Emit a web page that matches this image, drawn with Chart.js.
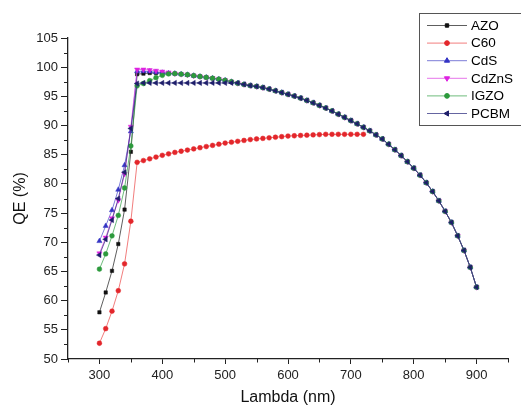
<!DOCTYPE html>
<html>
<head>
<meta charset="utf-8">
<script src="https://cdn.jsdelivr.net/npm/chart.js@4.4.1/dist/chart.umd.min.js"></script>
<style>
  html, body { margin: 0; padding: 0; background: #fff; }
  #wrap { width: 521px; height: 406px; position: relative; }
</style>
</head>
<body>
<div id="wrap"><canvas id="qeChart"></canvas></div>
<script>
// wavelength grid, 300..900 nm every 10 nm
const lambdaNm = [
  300, 310, 320, 330, 340, 350, 360, 370, 380, 390, 400, 410, 420, 430, 440, 450,
  460, 470, 480, 490, 500, 510, 520, 530, 540, 550, 560, 570, 580, 590, 600, 610,
  620, 630, 640, 650, 660, 670, 680, 690, 700, 710, 720, 730, 740, 750, 760, 770,
  780, 790, 800, 810, 820, 830, 840, 850, 860, 870, 880, 890, 900
];

// shared long-wavelength part (360..900 nm), where most curves overlap
const commonQE = [
  98.8, 98.9, 99.0, 99.0, 99.0, 98.95, 98.9, 98.8, 98.7, 98.55,
  98.4, 98.25, 98.1, 97.95, 97.75, 97.5, 97.25, 97.05, 96.85, 96.7,
  96.5, 96.25, 95.95, 95.65, 95.35, 95.05, 94.7, 94.3, 93.9, 93.45,
  93.0, 92.5, 91.95, 91.4, 90.85, 90.3, 89.7, 89.1, 88.4, 87.7,
  86.8, 85.85, 84.85, 83.8, 82.7, 81.5, 80.2, 78.7, 77.1, 75.3,
  73.4, 71.1, 68.6, 65.7, 62.3
];

// short-wavelength part of each buffer layer, starting at 300 nm
const azoHead = [58.0, 61.4, 65.1, 69.7, 75.6, 85.5];
const cdsHead = [70.2, 72.8, 75.5, 79.0, 83.2, 89.0, 99.3, 99.3, 99.25, 99.15, 99.05];
const cdznsHead = [68.1, 70.8, 74.1, 77.2, 81.7, 89.8, 99.6, 99.6, 99.5, 99.4, 99.25, 99.1];
const igzoHead = [65.4, 68.0, 71.1, 74.6, 79.3, 86.5, 96.8, 97.2, 97.7, 98.2, 98.6, 98.85];
const pcbmHead = [
  67.8, 70.5, 73.8, 77.5, 82.0, 89.5, 97.2, 97.3, 97.3, 97.3, 97.3, 97.3,
  97.3, 97.3, 97.3, 97.3, 97.3, 97.3, 97.3, 97.3, 97.3, 97.3, 97.3
];
// C60 only runs 300..720 nm
const c60QE = [
  52.7, 55.2, 58.2, 61.7, 66.3, 73.6, 83.7, 84.0, 84.3, 84.6, 84.9, 85.15,
  85.4, 85.6, 85.8, 86.0, 86.2, 86.4, 86.6, 86.8, 87.0, 87.15, 87.3, 87.45,
  87.6, 87.7, 87.8, 87.9, 88.0, 88.1, 88.2, 88.25, 88.3, 88.35, 88.4, 88.45,
  88.5, 88.5, 88.5, 88.5, 88.5, 88.5, 88.5
];

const xTicksMajor = [300, 400, 500, 600, 700, 800, 900];
const yTicksMajor = [50, 55, 60, 65, 70, 75, 80, 85, 90, 95, 100, 105];

const withTail = (head) => head.concat(commonQE.slice(head.length - 6));
const toPoints = (values) => values.map((v, i) => ({ x: lambdaNm[i], y: v }));

const AXIS_COLOR = "#222";
const FONT = "'Liberation Sans', Arial, sans-serif";

const series = [
  { label: "AZO", values: withTail(azoHead), color: "#111", line: "rgba(40,40,40,0.75)", style: "rect", radius: 2.4, rot: 0 },
  { label: "C60", values: c60QE, color: "#e3262b", line: "rgba(235,70,70,0.7)", style: "circle", radius: 2.4, rot: 0 },
  { label: "CdS", values: withTail(cdsHead), color: "#3434c4", line: "rgba(70,70,200,0.7)", style: "triangle", radius: 3, rot: 0 },
  { label: "CdZnS", values: withTail(cdznsHead), color: "#dd22e0", line: "rgba(220,60,225,0.7)", style: "triangle", radius: 3, rot: 180 },
  { label: "IGZO", values: withTail(igzoHead), color: "#2c9a3c", line: "rgba(50,160,70,0.7)", style: "circle", radius: 2.4, rot: 0 },
  { label: "PCBM", values: withTail(pcbmHead), color: "#1e1e6a", line: "rgba(50,50,130,0.75)", style: "triangle", radius: 3, rot: -90 },
];

const minorTicksPlugin = {
  id: "minorTicks",
  afterDraw(chart) {
    const { ctx, scales } = chart;
    ctx.save();
    ctx.strokeStyle = AXIS_COLOR;
    ctx.lineWidth = 1;
    scales.x.ticks.forEach((t) => {
      if (xTicksMajor.includes(t.value)) return;
      const x = Math.round(scales.x.getPixelForValue(t.value)) + 0.5;
      ctx.beginPath();
      ctx.moveTo(x, scales.x.top);
      ctx.lineTo(x, scales.x.top + 3.5);
      ctx.stroke();
    });
    scales.y.ticks.forEach((t) => {
      if (yTicksMajor.includes(t.value)) return;
      const y = Math.round(scales.y.getPixelForValue(t.value)) + 0.5;
      ctx.beginPath();
      ctx.moveTo(scales.y.right, y);
      ctx.lineTo(scales.y.right - 4, y);
      ctx.stroke();
    });
    ctx.restore();
  },
};

const boxLegendPlugin = {
  id: "boxLegend",
  afterDraw(chart) {
    const { ctx } = chart;
    const left = 419, top = 13, rowH = 17.6, firstRow = 25;
    ctx.save();
    ctx.fillStyle = "#fff";
    ctx.fillRect(left, top, 130, 112);
    ctx.strokeStyle = "#555";
    ctx.lineWidth = 1;
    ctx.strokeRect(left + 0.5, top + 0.5, 130, 112);
    ctx.font = `13.5px ${FONT}`;
    ctx.textBaseline = "middle";
    chart.data.datasets.forEach((ds, i) => {
      const y = firstRow + i * rowH;
      ctx.strokeStyle = ds.borderColor;
      ctx.lineWidth = 1;
      ctx.beginPath();
      ctx.moveTo(427, y + 0.5);
      ctx.lineTo(467, y + 0.5);
      ctx.stroke();
      ctx.fillStyle = ds.pointBackgroundColor;
      ctx.strokeStyle = ds.pointBorderColor;
      Chart.helpers.drawPoint(ctx, {
        pointStyle: ds.pointStyle,
        radius: ds.pointRadius,
        rotation: ds.pointRotation,
        borderWidth: 0.5,
      }, 447, y + 0.5);
      ctx.fillStyle = "#000";
      ctx.fillText(ds.label, 471, y + 1);
    });
    ctx.restore();
  },
};

new Chart(document.getElementById("qeChart"), {
  type: "line",
  data: {
    datasets: series.map((s, i) => ({
      label: s.label,
      data: toPoints(s.values),
      borderColor: s.line,
      borderWidth: 1,
      pointStyle: s.style,
      pointRadius: s.radius,
      pointRotation: s.rot,
      pointBackgroundColor: s.color,
      pointBorderColor: s.color,
      pointBorderWidth: 0.5,
      tension: 0,
      order: series.length - i,
    })),
  },
  options: {
    responsive: true,
    maintainAspectRatio: false,
    animation: false,
    layout: { padding: { left: 0, top: 38, right: 13, bottom: 0 } },
    plugins: {
      legend: { display: false },
      tooltip: { enabled: false },
    },
    scales: {
      x: {
        type: "linear",
        min: 250,
        max: 950,
        afterFit(scale) { scale.height = 47; },
        ticks: {
          stepSize: 50,
          autoSkip: false,
          maxRotation: 0,
          padding: 4,
          color: AXIS_COLOR,
          font: { family: FONT, size: 13 },
          callback: (v) => (xTicksMajor.includes(v) ? String(v) : ""),
        },
        grid: {
          drawOnChartArea: false,
          drawTicks: true,
          tickLength: 5,
          tickColor: (c) => (c.tick && xTicksMajor.includes(c.tick.value) ? AXIS_COLOR : "rgba(0,0,0,0)"),
        },
        border: { display: true, color: AXIS_COLOR, width: 1.3 },
        title: {
          display: true,
          text: "Lambda (nm)",
          color: "#111",
          font: { family: FONT, size: 16, lineHeight: 1 },
          padding: { top: 0, bottom: 0 },
        },
      },
      y: {
        min: 50,
        max: 105,
        afterFit(scale) { scale.width = 68; },
        ticks: {
          stepSize: 2.5,
          autoSkip: false,
          padding: 3,
          color: AXIS_COLOR,
          font: { family: FONT, size: 13 },
          callback: (v) => (yTicksMajor.includes(v) ? String(v) : ""),
        },
        grid: {
          drawOnChartArea: false,
          drawTicks: true,
          tickLength: 7,
          tickColor: (c) => (c.tick && yTicksMajor.includes(c.tick.value) ? AXIS_COLOR : "rgba(0,0,0,0)"),
        },
        border: { display: true, color: AXIS_COLOR, width: 1.3 },
        title: {
          display: true,
          text: "QE (%)",
          color: "#111",
          font: { family: FONT, size: 16, lineHeight: 1 },
          padding: { top: 13, bottom: 0 },
        },
      },
    },
  },
  plugins: [minorTicksPlugin, boxLegendPlugin],
});
</script>
</body>
</html>
